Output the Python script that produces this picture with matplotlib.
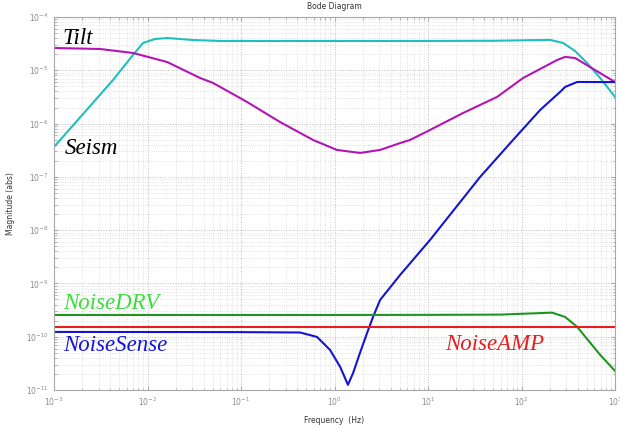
import matplotlib
matplotlib.use("Agg")
import matplotlib.pyplot as plt
from matplotlib.ticker import LogLocator, NullFormatter

# Tilt transfer magnitude
tilt_f = [1.0e-3, 4.28e-3, 7.0e-3, 8.95e-3, 1.2e-2, 1.62e-2, 3.07e-2, 5.96e-2,
          0.1, 1.0, 10.0, 50.0, 100.0, 202.0, 278.0, 373.0, 502.0, 692.0, 1000.0]
tilt_m = [3.64e-7, 6.58e-6, 1.94e-5, 3.25e-5, 3.86e-5, 4.03e-5, 3.70e-5, 3.55e-5,
          3.55e-5, 3.55e-5, 3.55e-5, 3.58e-5, 3.65e-5, 3.72e-5, 3.25e-5, 2.30e-5,
          1.37e-5, 7.18e-6, 3.15e-6]

# Seismic transfer magnitude
seism_f = [1.0e-3, 3.1e-3, 7.0e-3, 1.62e-2, 3.64e-2, 5.02e-2, 0.116, 0.261, 0.589,
           1.06, 1.87, 3.07, 5.02, 6.41, 10.5, 23.7, 54.7, 104.0, 240.0, 292.0,
           373.0, 1000.0]
seism_m = [2.62e-5, 2.51e-5, 2.11e-5, 1.43e-5, 7.18e-6, 5.78e-6, 2.54e-6, 1.07e-6,
           4.92e-7, 3.2e-7, 2.81e-7, 3.2e-7, 4.3e-7, 4.92e-7, 7.59e-7, 1.58e-6,
           3.16e-6, 7.18e-6, 1.56e-5, 1.78e-5, 1.70e-5, 6.0e-6]

# Sensor noise
sense_f = [1.0e-3, 0.1, 0.428, 0.65, 0.895, 1.15, 1.39, 1.58, 1.87, 2.23, 2.58,
           3.07, 5.02, 10.5, 36.0, 81.0, 158.0, 258.0, 292.0, 393.0, 1000.0]
sense_m = [1.23e-10, 1.22e-10, 1.2e-10, 9.9e-11, 5.65e-11, 2.71e-11, 1.25e-11,
           2.09e-11, 4.97e-11, 1.18e-10, 2.35e-10, 4.9e-10, 1.44e-9, 6.55e-9,
           9.95e-8, 4.92e-7, 1.8e-6, 3.92e-6, 4.87e-6, 6.03e-6, 6.0e-6]

# Driver noise
drv_f = [1.0e-3, 1.0, 10.0, 58.9, 212.0, 292.0, 393.0, 692.0, 1000.0]
drv_m = [2.56e-10, 2.56e-10, 2.57e-10, 2.6e-10, 2.83e-10, 2.35e-10, 1.53e-10,
         4.56e-11, 2.28e-11]

# Amplifier noise
amp_f = [1.0e-3, 1000.0]
amp_m = [1.53e-10, 1.53e-10]

fig = plt.figure(figsize=(6.2, 4.29), dpi=100)
ax = fig.add_axes([0.0871, 0.0909, 0.905, 0.8695])

ax.loglog(tilt_f, tilt_m, color="#1fbfbf", lw=1.5)
ax.loglog(seism_f, seism_m, color="#b414b4", lw=1.5)
ax.loglog(sense_f, sense_m, color="#1414d2", lw=1.5)
ax.loglog(drv_f, drv_m, color="#1e961e", lw=1.5)
ax.loglog(amp_f, amp_m, color="#e61e1e", lw=1.5)

ax.set_xlim(1e-3, 1e3)
ax.set_ylim(1e-11, 1e-4)

ax.xaxis.set_major_locator(LogLocator(base=10, numticks=20))
ax.yaxis.set_major_locator(LogLocator(base=10, numticks=20))
ax.xaxis.set_minor_locator(LogLocator(base=10, subs=range(2, 10), numticks=100))
ax.yaxis.set_minor_locator(LogLocator(base=10, subs=range(2, 10), numticks=100))
ax.xaxis.set_minor_formatter(NullFormatter())
ax.yaxis.set_minor_formatter(NullFormatter())

ax.grid(True, which="major", ls=":", color="#bdbdbd", lw=0.7)
ax.grid(True, which="minor", ls=":", color="#d9d9d9", lw=0.6)

for s in ax.spines.values():
    s.set_color("#a8a8a8")
    s.set_linewidth(0.8)
ax.tick_params(which="both", direction="in", top=True, right=True,
               colors="#a8a8a8", labelcolor="#8c8c8c", labelsize=5.5)
ax.tick_params(which="major", length=3, pad=4)
ax.tick_params(which="minor", length=1.8)

ax.set_title("Bode Diagram", fontsize=5.5, color="#333333", pad=6)
ax.set_xlabel("Frequency  (Hz)", fontsize=5.5, color="#333333", labelpad=6)
ax.set_ylabel("Magnitude (abs)", fontsize=5.5, color="#333333", labelpad=8)

lbl = dict(family="Liberation Serif", style="italic", fontsize=16.5,
           transform=ax.transAxes, va="baseline", ha="left")
ax.text(0.0143, 0.928, "Tilt", color="black", **lbl)
ax.text(0.0196, 0.633, "Seism", color="black", **lbl)
ax.text(0.016, 0.217, "NoiseDRV", color="#3cdc3c", **lbl)
ax.text(0.016, 0.105, "NoiseSense", color="#1414dc", **lbl)
ax.text(0.697, 0.107, "NoiseAMP", color="#e61e1e", **lbl)

fig.savefig("out.png", dpi=100)
